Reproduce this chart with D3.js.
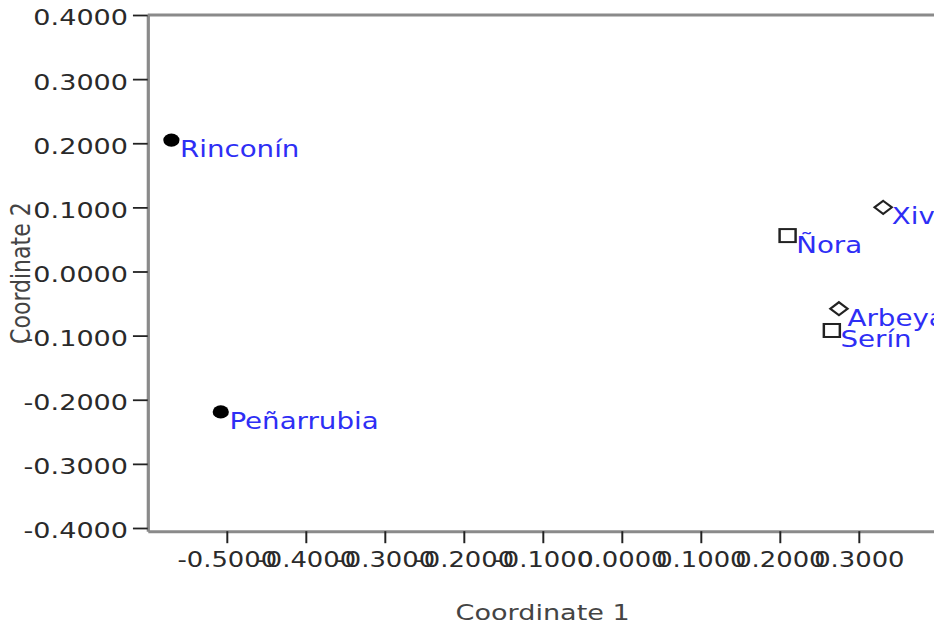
<!DOCTYPE html>
<html>
<head>
<meta charset="utf-8">
<script src="https://cdn.jsdelivr.net/npm/d3@7"></script>
<style>
  html, body { margin: 0; padding: 0; background: #fff; }
  svg { display: block; }
  text { font-family: "DejaVu Sans", sans-serif; }
</style>
</head>
<body>
<svg id="chart" width="934" height="629"></svg>
<script>
// Site names and their positions on the first two coordinates
const sites = ["Rinconín", "Peñarrubia", "Ñora", "Serín", "Xivares", "Arbeyales"];
const coord1 = [-0.570, -0.5075, 0.210, 0.266, 0.331, 0.275];
const coord2 = [0.205, -0.219, 0.056, -0.092, 0.100, -0.058];
const groups = ["circle", "circle", "square", "square", "diamond", "diamond"];

// Axis ticks
const xTicks = [-0.5, -0.4, -0.3, -0.2, -0.1, 0.0, 0.1, 0.2, 0.3];
const yTicks = [-0.4, -0.3, -0.2, -0.1, 0.0, 0.1, 0.2, 0.3, 0.4];
const xTitle = "Coordinate 1";
const yTitle = "Coordinate 2";

const WIDTH = 934, HEIGHT = 629;
const SX = 1.23; // horizontal stretch of the whole drawing

const svg = d3.select("#chart");
const g = svg.append("g").attr("transform", `scale(${SX},1)`);

const x = d3.scaleLinear().domain([-0.6, 0.4]).range([147.7 / SX, (147.7 + 790) / SX]);
const y = d3.scaleLinear().domain([-0.405, 0.4]).range([531.2, 15]);

const fmt = d => d.toFixed(4);
const axisGrey = "#8a8a8a";
const tickCol = "#222";
const labelCol = "#2e2ef5";

// Frame: top and right edges
g.append("path")
  .attr("d", `M${x.range()[0]},${y(0.4)}H${x.range()[1]}V${y.range()[0]}`)
  .attr("fill", "none")
  .attr("stroke", axisGrey)
  .attr("stroke-width", 3);

// Y axis
const yAxis = g.append("g")
  .attr("transform", `translate(${x.range()[0]},0)`)
  .call(d3.axisLeft(y).tickValues(yTicks).tickFormat(fmt).tickSize(12).tickSizeOuter(0).tickPadding(4));
yAxis.select(".domain").attr("stroke", axisGrey).attr("stroke-width", 2.6);
yAxis.selectAll(".tick line").attr("stroke", tickCol).attr("stroke-width", 1.8);
yAxis.selectAll(".tick text")
  .attr("font-size", 22)
  .attr("font-family", "DejaVu Sans, sans-serif")
  .attr("fill", "#2a2a2a")
  .attr("dy", "0.45em");

// X axis
const xAxis = g.append("g")
  .attr("transform", `translate(0,${y.range()[0]})`)
  .call(d3.axisBottom(x).tickValues(xTicks).tickFormat(fmt).tickSize(12).tickSizeOuter(0).tickPadding(9));
xAxis.select(".domain").attr("stroke", axisGrey).attr("stroke-width", 3);
xAxis.selectAll(".tick line").attr("stroke", tickCol).attr("stroke-width", 1.6);
xAxis.selectAll(".tick text")
  .attr("font-size", 21)
  .attr("font-family", "DejaVu Sans, sans-serif")
  .attr("fill", "#2a2a2a");

// Axis titles
g.append("text")
  .attr("x", (x.range()[0] + x.range()[1]) / 2)
  .attr("y", 620)
  .attr("text-anchor", "middle")
  .attr("font-size", 22)
  .attr("fill", "#444")
  .text(xTitle);

g.append("text")
  .attr("transform", `translate(${30 / SX},${(y.range()[0] + y.range()[1]) / 2}) rotate(-90)`)
  .attr("text-anchor", "middle")
  .attr("font-size", 22)
  .attr("fill", "#444")
  .text(yTitle);

// Points
const data = sites.map((s, i) => ({ name: s, c1: coord1[i], c2: coord2[i], shape: groups[i] }));
const pts = g.append("g").selectAll("g").data(data).join("g")
  .attr("transform", d => `translate(${x(d.c1)},${y(d.c2)})`);

pts.filter(d => d.shape === "circle").append("circle")
  .attr("r", 6.6)
  .attr("fill", "#000");

pts.filter(d => d.shape === "square").append("rect")
  .attr("x", -6.5).attr("y", -6.5)
  .attr("width", 13).attr("height", 13)
  .attr("fill", "#fff")
  .attr("stroke", "#222")
  .attr("stroke-width", 2);

pts.filter(d => d.shape === "diamond").append("path")
  .attr("d", "M0,-6.5L7,0L0,6.5L-7,0Z")
  .attr("fill", "#fff")
  .attr("stroke", "#222")
  .attr("stroke-width", 2);

pts.append("text")
  .attr("x", 7)
  .attr("y", 17)
  .attr("font-size", 22.5)
  .attr("fill", labelCol)
  .text(d => d.name);
</script>
</body>
</html>
